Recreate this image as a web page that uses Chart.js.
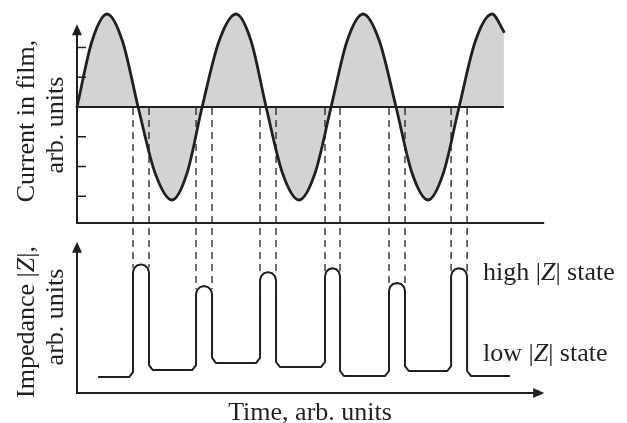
<!DOCTYPE html>
<html>
<head>
<meta charset="utf-8">
<script src="https://cdn.jsdelivr.net/npm/chart.js@4/dist/chart.umd.min.js"></script>
<style>
  html, body { margin: 0; padding: 0; background: #fff; }
  #wrap { width: 627px; height: 423px; position: relative; }
</style>
</head>
<body>
<div id="wrap"><canvas id="myChart"></canvas></div>
<script>
// current in film (top panel)
const sineTimes = [0, 0.47, 0.94, 1.42, 1.91, 2.44, 2.97, 3.44, 3.91, 4.44, 4.97, 5.44, 5.91, 6.42, 6.94,
                   7.44, 7.94, 8.44, 8.94, 9.45, 9.97, 10.47, 10.97, 11.45, 11.94, 12.45, 12.97, 13.34];
const currentValues = [0, 0.71, 1, 0.71, 0, -0.71, -1, -0.71, 0, 0.71, 1, 0.71, 0, -0.71, -1,
                       -0.71, 0, 0.71, 1, 0.71, 0, -0.71, -1, -0.71, 0, 0.71, 1, 0.81];
const currentTicks = [0.64, 0.32, -0.32, -0.64, -0.96];

// impedance pulses (bottom panel)
const riseTimes = [1.75, 3.72, 5.72, 7.75, 9.75, 11.69];
const fallTimes = [2.25, 4.22, 6.22, 8.22, 10.25, 12.19];
const highLevels = [8.3, 6.9, 7.8, 8.05, 7.1, 8.05];
const lowLevels = [1.03, 1.48, 1.94, 1.68, 1.1, 1.42, 1.1]; // before, between, after the pulses
const traceStart = 0.66, traceEnd = 13.53;

const INK = '#231f20';
const SERIF = '"Liberation Serif", "DejaVu Serif", serif';

// build the impedance trace: chamfered bottoms, rounded caps
const impPoints = [{x: traceStart, y: lowLevels[0]}];
const cT = 0.12, cZ = 0.32, capZ = 0.52;
riseTimes.forEach((r, i) => {
    const f = fallTimes[i], top = highLevels[i];
    const rx = (f - r) / 2;
    impPoints.push({x: r - cT, y: lowLevels[i]}, {x: r, y: lowLevels[i] + cZ});
    for (let a = 180; a >= 0; a -= 30) {
        const rad = a * Math.PI / 180;
        impPoints.push({x: r + rx + rx * Math.cos(rad), y: top - capZ + capZ * Math.sin(rad)});
    }
    impPoints.push({x: f, y: lowLevels[i + 1] + cZ}, {x: f + cT, y: lowLevels[i + 1]});
});
impPoints.push({x: traceEnd, y: lowLevels[6]});

function richText(ctx, parts, x, y, align) {
    let w = 0;
    parts.forEach(p => { ctx.font = (p.it ? 'italic ' : '') + '26px ' + SERIF; w += ctx.measureText(p.t).width; });
    let cx = align === 'center' ? x - w / 2 : x;
    ctx.textAlign = 'left';
    parts.forEach(p => {
        ctx.font = (p.it ? 'italic ' : '') + '26px ' + SERIF;
        ctx.fillText(p.t, cx, y);
        cx += ctx.measureText(p.t).width;
    });
}

function arrow(ctx, x, y, dir) {
    ctx.beginPath();
    if (dir === 'up') { ctx.moveTo(x, y); ctx.lineTo(x - 5, y + 11); ctx.lineTo(x + 5, y + 11); }
    else { ctx.moveTo(x, y); ctx.lineTo(x - 11, y - 5); ctx.lineTo(x - 11, y + 5); }
    ctx.closePath();
    ctx.fill();
}

const overlay = {
    id: 'overlay',
    afterDatasetsDraw(chart) {
        const {ctx, scales: {x, yCur, yImp}} = chart;
        const X = v => x.getPixelForValue(v);
        const YC = v => yCur.getPixelForValue(v);
        const YI = v => yImp.getPixelForValue(v);
        const seg = (x1, y1, x2, y2) => { ctx.beginPath(); ctx.moveTo(x1, y1); ctx.lineTo(x2, y2); ctx.stroke(); };
        ctx.save();
        ctx.strokeStyle = INK;
        ctx.fillStyle = INK;

        // dashed connectors from zero crossing to pulse edges
        ctx.lineWidth = 1.3;
        ctx.setLineDash([7, 5]);
        riseTimes.forEach((r, i) => {
            [r, fallTimes[i]].forEach(t => seg(X(t), YC(0) + 1, X(t), YI(highLevels[i] - 0.2)));
        });
        ctx.setLineDash([]);

        // top panel axes
        ctx.lineWidth = 2;
        seg(X(0), YC(0), X(sineTimes[sineTimes.length - 1]), YC(0));
        seg(X(0), YC(-1.247), X(0), YC(0.89) + 8);
        arrow(ctx, X(0), YC(0.89), 'up');
        seg(X(0) - 1, YC(-1.247), X(14.6), YC(-1.247));
        ctx.lineWidth = 1.5;
        currentTicks.forEach(v => seg(X(0), YC(v), X(0) + 9, YC(v)));

        // bottom panel axes
        ctx.lineWidth = 2;
        seg(X(0), YI(0), X(0), YI(9.75) + 8);
        arrow(ctx, X(0), YI(9.75), 'up');
        seg(X(0) - 1, YI(0), X(14.6) - 8, YI(0));
        arrow(ctx, X(14.6), YI(0), 'right');

        // texts
        ctx.textBaseline = 'alphabetic';
        ctx.save();
        ctx.translate(34, 121);
        ctx.rotate(-Math.PI / 2);
        richText(ctx, [{t: 'Current in film,'}], 0, 0, 'center');
        ctx.restore();
        ctx.save();
        ctx.translate(63, 125);
        ctx.rotate(-Math.PI / 2);
        richText(ctx, [{t: 'arb. units'}], 0, 0, 'center');
        ctx.restore();
        ctx.save();
        ctx.translate(34, 322);
        ctx.rotate(-Math.PI / 2);
        richText(ctx, [{t: 'Impedance |'}, {t: 'Z', it: true}, {t: '|,'}], 0, 0, 'center');
        ctx.restore();
        ctx.save();
        ctx.translate(63, 317);
        ctx.rotate(-Math.PI / 2);
        richText(ctx, [{t: 'arb. units'}], 0, 0, 'center');
        ctx.restore();

        richText(ctx, [{t: 'Time, arb. units'}], 310, 420, 'center');
        richText(ctx, [{t: 'high |'}, {t: 'Z', it: true}, {t: '| state'}], 483, 280, 'left');
        richText(ctx, [{t: 'low |'}, {t: 'Z', it: true}, {t: '| state'}], 483, 361, 'left');
        ctx.restore();
    }
};

const data = {
    datasets: [
        {
            label: 'Current in film',
            data: sineTimes.map((t, i) => ({x: t, y: currentValues[i]})),
            yAxisID: 'yCur',
            borderColor: INK,
            borderWidth: 2.8,
            backgroundColor: '#d1d3d4',
            fill: 'origin',
            pointRadius: 0,
            cubicInterpolationMode: 'monotone',
            borderCapStyle: 'round',
        },
        {
            label: 'Impedance |Z|',
            data: impPoints,
            yAxisID: 'yImp',
            borderColor: INK,
            borderWidth: 2,
            fill: false,
            pointRadius: 0,
            tension: 0,
            borderJoinStyle: 'round',
        },
    ],
};

const config = {
    type: 'line',
    data: data,
    options: {
        responsive: true,
        maintainAspectRatio: false,
        animation: false,
        layout: { padding: 0 },
        scales: {
            x: { type: 'linear', min: -2.40625, max: 17.1875, display: false },
            yCur: { type: 'linear', min: -3.3979, max: 1.1505, display: false },
            yImp: { type: 'linear', min: -1.9355, max: 25.3548, display: false },
        },
        plugins: {
            legend: { display: false },
            tooltip: { enabled: false },
        },
    },
    plugins: [overlay],
};

const ctx = document.getElementById('myChart').getContext('2d');
const myChart = new Chart(ctx, config);
</script>
</body>
</html>
